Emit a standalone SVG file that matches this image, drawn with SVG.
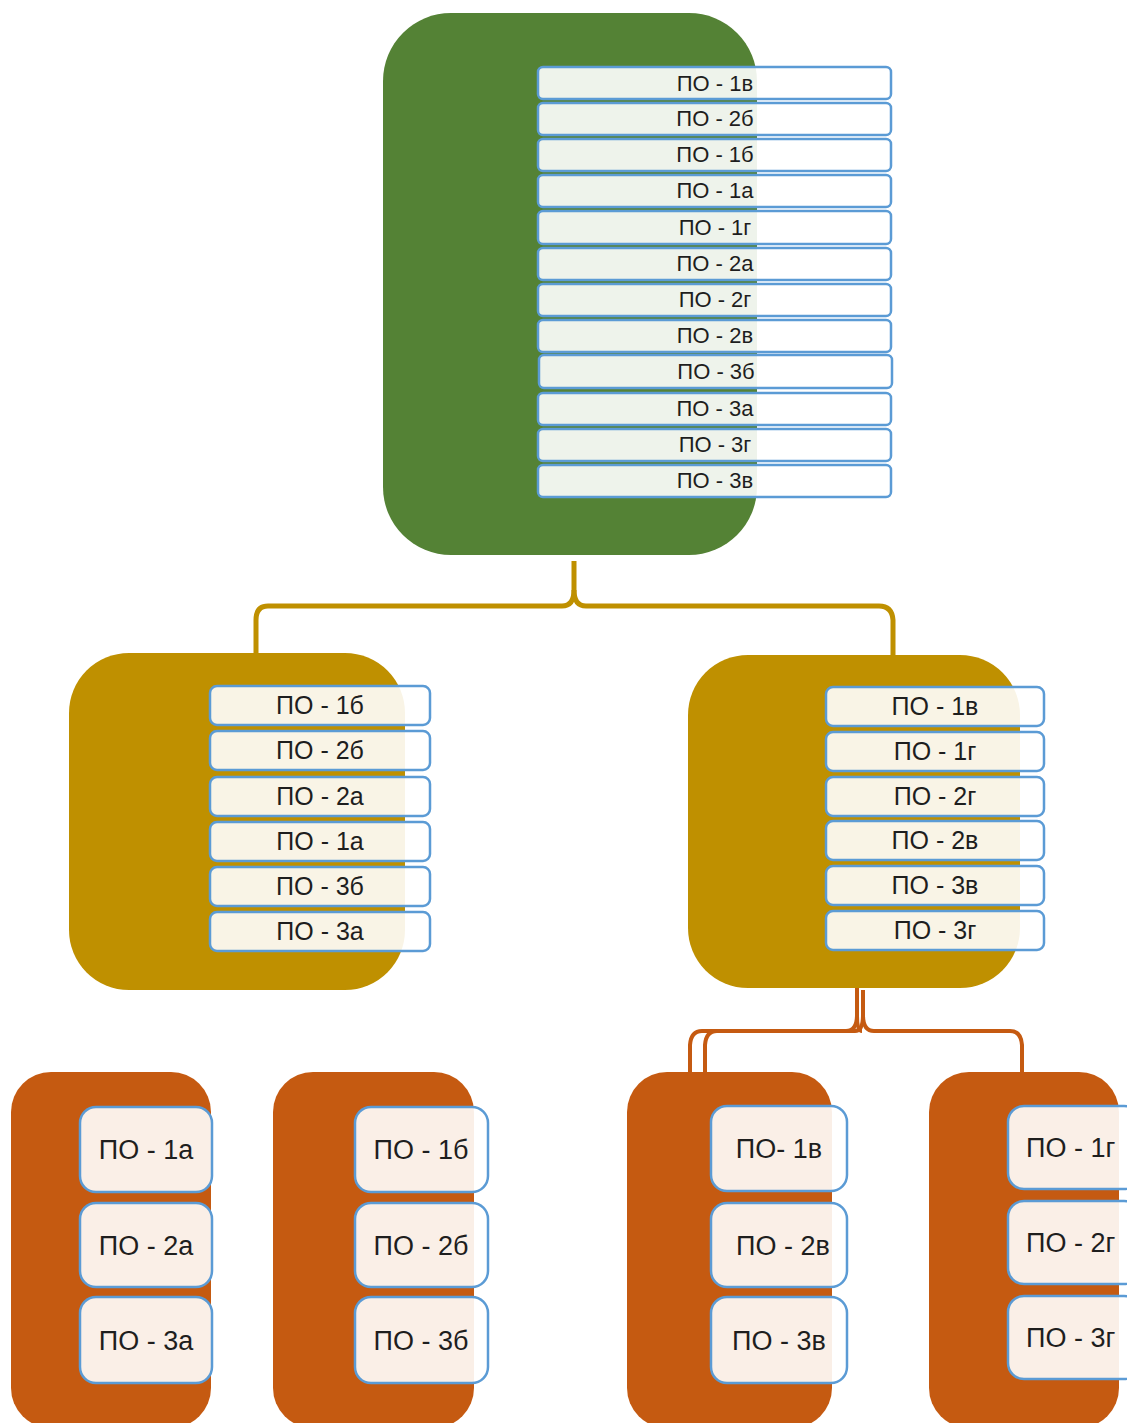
<svg xmlns="http://www.w3.org/2000/svg" width="1127" height="1423" viewBox="0 0 1127 1423">
<style>
.green{fill:#548235}
.gold{fill:#BF9000}
.orange{fill:#C55A11}
.item{fill:#ffffff;fill-opacity:0.9;stroke:#5B9BD5;stroke-width:2.5}
.t{font-family:"Liberation Sans",Arial,sans-serif;fill:#1e1e1e;text-anchor:middle}
.t1{font-size:22px}
.t2{font-size:25px}
.t3{font-size:27px}
.cg{fill:none;stroke:#BF9000;stroke-width:5;stroke-linecap:butt}
.co{fill:none;stroke:#C55A11;stroke-width:4}
</style>
<rect width="1127" height="1423" fill="#ffffff"/>
<g id="connectors">
<path class="cg" d="M574,561 V590 Q574,606 562,606 H268 Q256,606 256,620 V655"/>
<path class="cg" d="M574,590 Q574,606 586,606 H879 Q892,606 893,620 V655"/>
<path class="co" d="M857,987 V1015 Q857,1031 846,1031 H702 Q691,1031 690,1045 V1072"/>
<path class="co" d="M857,1015 Q857,1031 862,1031"/>
<path class="co" d="M863,990 V1015 Q863,1031 855,1031 H717 Q706,1031 705,1045 V1072"/>
<path class="co" d="M863,1015 Q863,1031 874,1031 H1010 Q1021,1031 1022,1045 V1072"/>
</g>
<g id="node-top">
<rect class="green" x="383" y="13" width="374" height="542" rx="68"/>
<g id="top-1v"><rect class="item" x="538" y="67" width="353" height="32" rx="5"/><text class="t t1" x="715" y="91">ПО - 1в</text></g>
<g id="top-2b"><rect class="item" x="538" y="103" width="353" height="32" rx="5"/><text class="t t1" x="715" y="126">ПО - 2б</text></g>
<g id="top-1b"><rect class="item" x="538" y="139" width="353" height="32" rx="5"/><text class="t t1" x="715" y="162">ПО - 1б</text></g>
<g id="top-1a"><rect class="item" x="538" y="175" width="353" height="32" rx="5"/><text class="t t1" x="715" y="198">ПО - 1а</text></g>
<g id="top-1g"><rect class="item" x="538" y="211" width="353" height="33" rx="5"/><text class="t t1" x="715" y="235">ПО - 1г</text></g>
<g id="top-2a"><rect class="item" x="538" y="248" width="353" height="32" rx="5"/><text class="t t1" x="715" y="271">ПО - 2а</text></g>
<g id="top-2g"><rect class="item" x="538" y="284" width="353" height="32" rx="5"/><text class="t t1" x="715" y="307">ПО - 2г</text></g>
<g id="top-2v"><rect class="item" x="538" y="320" width="353" height="32" rx="5"/><text class="t t1" x="715" y="343">ПО - 2в</text></g>
<g id="top-3b"><rect class="item" x="539" y="355" width="353" height="33" rx="5"/><text class="t t1" x="716" y="379">ПО - 3б</text></g>
<g id="top-3a"><rect class="item" x="538" y="393" width="353" height="32" rx="5"/><text class="t t1" x="715" y="416">ПО - 3а</text></g>
<g id="top-3g"><rect class="item" x="538" y="429" width="353" height="32" rx="5"/><text class="t t1" x="715" y="452">ПО - 3г</text></g>
<g id="top-3v"><rect class="item" x="538" y="465" width="353" height="32" rx="5"/><text class="t t1" x="715" y="488">ПО - 3в</text></g>
</g>
<g id="node-mid-left">
<rect class="gold" x="69" y="653" width="336" height="337" rx="60"/>
<g id="ml-1b"><rect class="item" x="210" y="686" width="220" height="39" rx="7"/><text class="t t2" x="320" y="714">ПО - 1б</text></g>
<g id="ml-2b"><rect class="item" x="210" y="731" width="220" height="39" rx="7"/><text class="t t2" x="320" y="759">ПО - 2б</text></g>
<g id="ml-2a"><rect class="item" x="210" y="777" width="220" height="39" rx="7"/><text class="t t2" x="320" y="805">ПО - 2а</text></g>
<g id="ml-1a"><rect class="item" x="210" y="822" width="220" height="39" rx="7"/><text class="t t2" x="320" y="850">ПО - 1а</text></g>
<g id="ml-3b"><rect class="item" x="210" y="867" width="220" height="39" rx="7"/><text class="t t2" x="320" y="895">ПО - 3б</text></g>
<g id="ml-3a"><rect class="item" x="210" y="912" width="220" height="39" rx="7"/><text class="t t2" x="320" y="940">ПО - 3а</text></g>
</g>
<g id="node-mid-right">
<rect class="gold" x="688" y="655" width="332" height="333" rx="60"/>
<g id="mr-1v"><rect class="item" x="826" y="687" width="218" height="39" rx="7"/><text class="t t2" x="935" y="715">ПО - 1в</text></g>
<g id="mr-1g"><rect class="item" x="826" y="732" width="218" height="39" rx="7"/><text class="t t2" x="935" y="760">ПО - 1г</text></g>
<g id="mr-2g"><rect class="item" x="826" y="777" width="218" height="39" rx="7"/><text class="t t2" x="935" y="805">ПО - 2г</text></g>
<g id="mr-2v"><rect class="item" x="826" y="821" width="218" height="39" rx="7"/><text class="t t2" x="935" y="849">ПО - 2в</text></g>
<g id="mr-3v"><rect class="item" x="826" y="866" width="218" height="39" rx="7"/><text class="t t2" x="935" y="894">ПО - 3в</text></g>
<g id="mr-3g"><rect class="item" x="826" y="911" width="218" height="39" rx="7"/><text class="t t2" x="935" y="939">ПО - 3г</text></g>
</g>
<g id="node-bottom-1">
<rect class="orange" x="11" y="1072" width="200" height="356" rx="40"/>
<g id="b1-1a"><rect class="item" x="80" y="1107" width="132" height="85" rx="16"/><text class="t t3" x="146" y="1159">ПО - 1а</text></g>
<g id="b1-2a"><rect class="item" x="80" y="1203" width="132" height="84" rx="16"/><text class="t t3" x="146" y="1255">ПО - 2а</text></g>
<g id="b1-3a"><rect class="item" x="80" y="1297" width="132" height="86" rx="16"/><text class="t t3" x="146" y="1350">ПО - 3а</text></g>
</g>
<g id="node-bottom-2">
<rect class="orange" x="273" y="1072" width="201" height="356" rx="40"/>
<g id="b2-1b"><rect class="item" x="355" y="1107" width="133" height="85" rx="16"/><text class="t t3" x="421" y="1159">ПО - 1б</text></g>
<g id="b2-2b"><rect class="item" x="355" y="1203" width="133" height="84" rx="16"/><text class="t t3" x="421" y="1255">ПО - 2б</text></g>
<g id="b2-3b"><rect class="item" x="355" y="1297" width="133" height="86" rx="16"/><text class="t t3" x="421" y="1350">ПО - 3б</text></g>
</g>
<g id="node-bottom-3">
<rect class="orange" x="627" y="1072" width="205" height="356" rx="40"/>
<g id="b3-1v"><rect class="item" x="711" y="1106" width="136" height="85" rx="16"/><text class="t t3" x="779" y="1158">ПО- 1в</text></g>
<g id="b3-2v"><rect class="item" x="711" y="1203" width="136" height="84" rx="16"/><text class="t t3" x="783" y="1255">ПО - 2в</text></g>
<g id="b3-3v"><rect class="item" x="711" y="1297" width="136" height="86" rx="16"/><text class="t t3" x="779" y="1350">ПО - 3в</text></g>
</g>
<g id="node-bottom-4">
<rect class="orange" x="929" y="1072" width="190" height="356" rx="40"/>
<g id="b4-1g"><rect class="item" x="1008" y="1106" width="132" height="83" rx="16"/><text class="t t3" x="1026" y="1157" style="text-anchor:start">ПО - 1г</text></g>
<g id="b4-2g"><rect class="item" x="1008" y="1201" width="132" height="83" rx="16"/><text class="t t3" x="1026" y="1252" style="text-anchor:start">ПО - 2г</text></g>
<g id="b4-3g"><rect class="item" x="1008" y="1296" width="132" height="83" rx="16"/><text class="t t3" x="1026" y="1347" style="text-anchor:start">ПО - 3г</text></g>
</g>
</svg>
